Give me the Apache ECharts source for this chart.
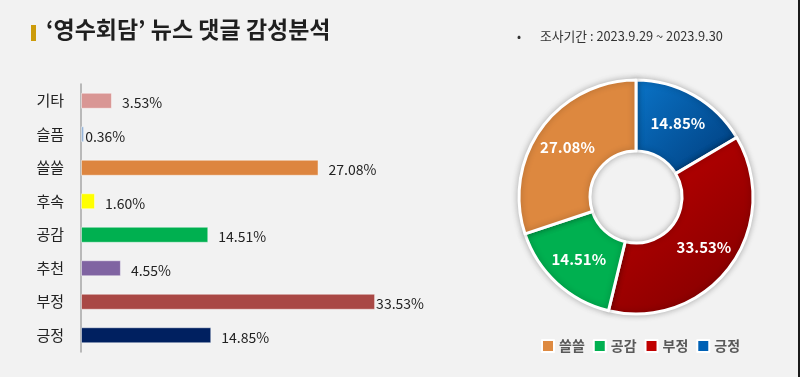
<!DOCTYPE html>
<html>
<head>
<meta charset="utf-8">
<script src="https://cdn.jsdelivr.net/npm/echarts@6/dist/echarts.min.js"></script>
<style>
  html, body { margin: 0; padding: 0; background: #f2f2f2; }
  #main { width: 800px; height: 377px; }
</style>
</head>
<body>
<div id="main"></div>
<script>
// 막대 그래프 데이터 (위에서 아래 순서)
const categories = ['기타', '슬픔', '쓸쓸', '후속', '공감', '추천', '부정', '긍정'];
const barValues = [3.53, 0.36, 27.08, 1.60, 14.51, 4.55, 33.53, 14.85];
const barColors = ['#d99694', '#95b3d7', '#dd853f', '#ffff00', '#00b050', '#8064a2', '#a94845', '#002060'];

// 도넛 데이터 (12시 방향부터 시계방향)
const pieNames = ['긍정', '부정', '공감', '쓸쓸'];
const pieValues = [14.85, 33.53, 14.51, 27.08];
const legendOrder = ['쓸쓸', '공감', '부정', '긍정'];

const titleText = '‘영수회담’ 뉴스 댓글 감성분석';
const periodText = '조사기간 : 2023.9.29 ~ 2023.9.30';

const grad = (c1, c2) => new echarts.graphic.LinearGradient(0, 0, 1, 1, [
  { offset: 0, color: c1 }, { offset: 1, color: c2 }
]);
const pieColors = {
  '긍정': grad('#0a74c8', '#003b7a'),
  '부정': grad('#c40000', '#7e0000'),
  '공감': '#00b050',
  '쓸쓸': '#dd883f'
};
const legendColors = { '긍정': '#0061b5', '부정': '#c00000', '공감': '#00b050', '쓸쓸': '#de8a41' };

const fmt = v => v.toFixed(2) + '%';

let myChart = echarts.init(document.getElementById('main'));
myChart.setOption({
  backgroundColor: '#f2f2f2',
  textStyle: { fontFamily: '"Noto Sans CJK KR", "Noto Sans", sans-serif' },
  animation: false,
  graphic: [
    { type: 'rect', left: 31, top: 25, shape: { width: 5, height: 16 }, style: { fill: '#cc9b0a' } },
    { type: 'text', left: 46, top: 18, style: { text: titleText, fill: '#1f1f1f', font: 'bold 23px "Noto Sans CJK KR"' } },
    { type: 'text', left: 517, top: 30, style: { text: '•', fill: '#333', font: '12px "Noto Sans CJK KR"' } },
    { type: 'text', left: 540, top: 30, style: { text: periodText, fill: '#333', font: '12.8px "Noto Sans CJK KR"' } },
    { type: 'rect', left: 798, top: 0, shape: { width: 2, height: 377 }, style: { fill: '#1a1a1a' } }
  ],
  grid: { left: 81, top: 84, width: 307, height: 268 },
  xAxis: { type: 'value', min: 0, max: 35, show: false },
  yAxis: {
    type: 'category',
    inverse: true,
    data: categories,
    axisLine: { lineStyle: { color: '#a6a6a6', width: 1.5 } },
    axisTick: { length: 6, lineStyle: { color: '#a6a6a6', width: 1.5 } },
    axisLabel: { margin: 17, fontSize: 15, color: '#222' }
  },
  legend: {
    data: legendOrder.map(n => ({ name: n, itemStyle: { color: legendColors[n] } })),
    left: 541, top: 339, padding: 0,
    itemWidth: 12, itemHeight: 12, itemGap: 8,
    icon: 'rect',
    textStyle: { fontSize: 14, fontWeight: 'bold', color: '#595959' }
  },
  series: [
    {
      type: 'bar',
      barWidth: 16,
      data: barValues.map((v, i) => ({
        value: v,
        itemStyle: { color: barColors[i], borderColor: 'rgba(255,255,255,0.45)', borderWidth: 1 },
        label: { distance: (i === 1 || i === 6) ? 1 : 10 }
      })),
      label: {
        show: true, position: 'right', fontSize: 14, color: '#222',
        offset: [0, 2],
        formatter: p => fmt(p.value)
      }
    },
    {
      type: 'pie',
      center: [636, 197],
      radius: [46, 117],
      startAngle: 90,
      clockwise: true,
      itemStyle: {
        borderColor: '#ffffff', borderWidth: 3,
        shadowBlur: 6, shadowColor: 'rgba(0,0,0,0.25)'
      },
      label: {
        show: true, position: 'inside', color: '#fff',
        fontSize: 15, fontWeight: 'bold',
        formatter: p => fmt(p.value)
      },
      labelLine: { show: false },
      data: pieNames.map((n, i) => ({ name: n, value: pieValues[i], itemStyle: { color: pieColors[n] } }))
    }
  ]
});
</script>
</body>
</html>
